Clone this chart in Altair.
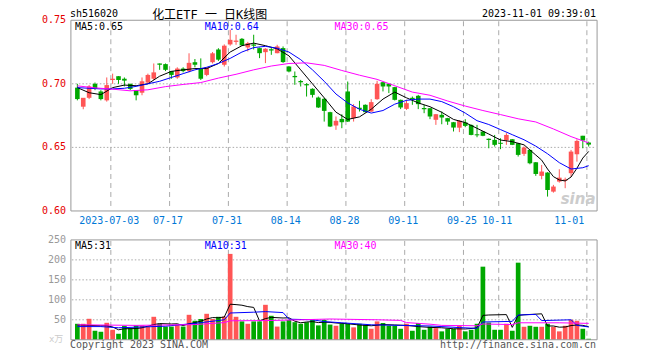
import altair as alt
import pandas as pd

# ---------------- data ----------------
open_ = [0.697, 0.682, 0.689, 0.700, 0.694, 0.687, 0.703, 0.706, 0.704, 0.700,
         0.695, 0.693, 0.701, 0.704, 0.716, 0.7155, 0.710, 0.705, 0.712, 0.710,
         0.717, 0.712, 0.707, 0.717, 0.727, 0.715, 0.731, 0.733, 0.7354, 0.7286,
         0.731, 0.7281, 0.7249, 0.7272, 0.7241, 0.7281, 0.7136, 0.7062, 0.7022, 0.6998,
         0.6961, 0.6892, 0.6882, 0.6777, 0.6672, 0.6724, 0.694, 0.673, 0.6812, 0.6835,
         0.6782, 0.6879, 0.7013, 0.700, 0.6974, 0.6874, 0.6803, 0.6890, 0.6906, 0.6810,
         0.6808, 0.6717, 0.6756, 0.673, 0.6698, 0.6655, 0.6696, 0.6677, 0.6603, 0.6625,
         0.6568, 0.6559, 0.6536, 0.6556, 0.6564, 0.6533, 0.6449, 0.648, 0.6383, 0.6276,
         0.6302, 0.6152, 0.6231, 0.6238, 0.6297, 0.6446, 0.6591, 0.6538]
high = [0.700, 0.688, 0.699, 0.701, 0.695, 0.705, 0.708, 0.706, 0.705, 0.700,
        0.695, 0.705, 0.708, 0.716, 0.716, 0.716, 0.710, 0.713, 0.713, 0.724,
        0.7195, 0.720, 0.713, 0.725, 0.728, 0.731, 0.7425, 0.7386, 0.736, 0.733,
        0.7386, 0.7285, 0.728, 0.7281, 0.7307, 0.7294, 0.714, 0.7097, 0.7031, 0.7005,
        0.6965, 0.690, 0.689, 0.678, 0.6743, 0.6761, 0.7018, 0.684, 0.6866, 0.6838,
        0.6879, 0.7024, 0.7015, 0.700, 0.6976, 0.6876, 0.6874, 0.690, 0.6913, 0.6835,
        0.681, 0.6763, 0.6782, 0.6732, 0.670, 0.6714, 0.6722, 0.668, 0.6677, 0.6627,
        0.6570, 0.6598, 0.6572, 0.6612, 0.6566, 0.6535, 0.6507, 0.6482, 0.6385, 0.6362,
        0.6305, 0.6205, 0.6328, 0.6262, 0.648, 0.6564, 0.6591, 0.6545]
low = [0.687, 0.680, 0.688, 0.695, 0.687, 0.686, 0.700, 0.700, 0.698, 0.695,
       0.687, 0.691, 0.700, 0.703, 0.711, 0.710, 0.704, 0.704, 0.709, 0.709,
       0.713, 0.703, 0.706, 0.716, 0.718, 0.7136, 0.730, 0.7307, 0.730, 0.7255,
       0.727, 0.7202, 0.7163, 0.7228, 0.724, 0.7165, 0.709, 0.6992, 0.6979, 0.690,
       0.6892, 0.681, 0.6703, 0.666, 0.6638, 0.6651, 0.670, 0.6703, 0.6782, 0.6775,
       0.678, 0.6874, 0.694, 0.6927, 0.6869, 0.6801, 0.6795, 0.6835, 0.6801, 0.6769,
       0.6722, 0.6677, 0.6682, 0.6677, 0.6625, 0.6620, 0.6659, 0.6595, 0.658, 0.6588,
       0.6493, 0.6507, 0.6486, 0.652, 0.6518, 0.6428, 0.6433, 0.6367, 0.6276, 0.6249,
       0.6113, 0.6144, 0.6223, 0.6179, 0.627, 0.6388, 0.6493, 0.6507]
close = [0.688, 0.689, 0.698, 0.696, 0.688, 0.699, 0.704, 0.703, 0.7025, 0.696,
         0.691, 0.702, 0.707, 0.709, 0.715, 0.711, 0.707, 0.712, 0.710, 0.7165,
         0.715, 0.704, 0.713, 0.724, 0.719, 0.730, 0.7346, 0.734, 0.7302, 0.732,
         0.730, 0.7241, 0.7276, 0.7262, 0.7294, 0.7171, 0.7097, 0.7052, 0.7012, 0.6988,
         0.6913, 0.6814, 0.6787, 0.6664, 0.6709, 0.6698, 0.6703, 0.6822, 0.6802, 0.6777,
         0.6856, 0.700, 0.6979, 0.6979, 0.6874, 0.6814, 0.6848, 0.6880, 0.684, 0.6800,
         0.6743, 0.6761, 0.6735, 0.6703, 0.6656, 0.6710, 0.6669, 0.6598, 0.6595, 0.6591,
         0.6558, 0.652, 0.6528, 0.6598, 0.652, 0.6441, 0.6499, 0.6375, 0.6291, 0.631,
         0.6165, 0.6192, 0.6262, 0.6248, 0.6467, 0.6551, 0.6554, 0.6522]
volume = [40, 40, 52.5, 22.5, 20, 42.5, 25, 15, 35, 29,
          36, 36, 33, 57.5, 40, 33, 33, 37.5, 33, 62.5,
          47.5, 52, 65, 52, 57.5, 58, 215, 57.5, 46, 40,
          46, 46, 87.5, 60, 33, 46, 50, 44, 40, 44,
          50, 36, 50, 38, 35, 40, 40, 31, 40, 37.5,
          27.5, 46, 42, 35, 35, 27.5, 40, 22.5, 42, 25,
          33, 29, 21, 27.5, 27.5, 35, 21, 25, 40, 183,
          43, 25, 25, 40, 22.5, 193, 32.5, 35, 32.5, 32.5,
          40, 32.5, 21, 35, 50, 47.5, 27.5, 2.5]

# price moving averages (index, value)
ma5_idx = [0, 2, 4, 6, 8, 10, 12, 14, 16, 18, 20, 22, 24, 26, 28, 30, 32, 34, 36, 38,
           40, 42, 44, 46, 48, 50, 52, 54, 56, 58, 60, 62, 64, 66, 68, 70, 72, 74, 76, 78,
           79, 80, 81, 82, 83, 84, 85, 86, 87]
ma5_val = [0.697, 0.693, 0.6915, 0.697, 0.699, 0.6985, 0.700, 0.706, 0.7098, 0.711,
           0.712, 0.712, 0.716, 0.725, 0.730, 0.732, 0.730, 0.7275, 0.722, 0.711,
           0.700, 0.689, 0.6777, 0.672, 0.674, 0.680, 0.688, 0.6935, 0.689, 0.685,
           0.682, 0.6776, 0.672, 0.6695, 0.665, 0.6605, 0.6558, 0.6545, 0.652, 0.644,
           0.640, 0.633, 0.627, 0.6244, 0.6236, 0.6267, 0.6336, 0.6416, 0.6468]
ma10_idx = [0, 2, 4, 6, 8, 10, 12, 14, 16, 18, 20, 22, 24, 26, 28, 30, 32, 34, 36, 38,
            40, 42, 44, 46, 48, 50, 52, 54, 56, 58, 60, 62, 64, 66, 68, 70, 72, 74, 76, 78,
            80, 82, 84, 86, 87]
ma10_val = [0.697, 0.6965, 0.696, 0.696, 0.6965, 0.698, 0.700, 0.702, 0.705, 0.708,
            0.711, 0.713, 0.716, 0.720, 0.725, 0.7285, 0.7295, 0.728, 0.725, 0.719,
            0.711, 0.702, 0.692, 0.685, 0.680, 0.677, 0.679, 0.684, 0.687, 0.688,
            0.688, 0.686, 0.682, 0.677, 0.671, 0.668, 0.664, 0.660, 0.656, 0.651,
            0.645, 0.638, 0.633, 0.634, 0.6356]
ma30_idx = [0, 3, 6, 9, 12, 15, 18, 21, 24, 27, 30, 33, 36, 39, 42, 45, 48, 51, 54, 57,
            60, 63, 66, 69, 72, 75, 78, 81, 84, 87]
ma30_val = [0.6984, 0.6968, 0.6958, 0.6945, 0.6953, 0.6978, 0.6995, 0.701, 0.7045, 0.7075,
            0.711, 0.714, 0.716, 0.7165, 0.7145, 0.7105, 0.7068, 0.7035, 0.6985, 0.6935,
            0.691, 0.6865, 0.6825, 0.679, 0.6758, 0.6725, 0.670, 0.6645, 0.6585, 0.6535]

# volume moving averages (index, value)
vma5_idx = [0, 2, 4, 5, 6, 7, 8, 10, 11, 12, 13, 14, 16, 17, 18, 19, 20, 21, 22, 23,
            24, 25, 26, 27, 28, 29, 30, 31, 32, 33, 35, 36, 37, 38, 39, 40, 41, 42, 43, 44,
            46, 48, 50, 52, 54, 56, 58, 60, 62, 64, 66, 68, 69, 70, 73, 74, 75, 76, 79, 80,
            81, 82, 83, 84, 85, 86, 87]
vma5_val = [37, 36, 35, 35, 32, 25, 27.5, 28, 30, 34, 38, 40.5, 39.5, 40, 35.5, 40, 43, 46.5, 52, 55.5,
            55, 57, 89, 88, 86.5, 83, 81, 47, 53, 56, 54.5, 55, 46.5, 42.5, 44.5, 45.5, 43, 44, 43.5, 42,
            40, 37, 35, 38, 37, 36, 33, 31, 30, 27.5, 27, 29.5, 61, 62, 63, 31, 61, 62.5, 65, 34.5,
            34.5, 31.5, 32, 35.5, 37, 36, 32.5]
vma10_idx = [0, 4, 7, 10, 15, 20, 25, 26, 30, 32, 35, 36, 40, 42, 45, 50, 55, 60, 65, 68,
             69, 74, 75, 78, 79, 84, 85, 87]
vma10_val = [33, 33, 30, 31.5, 34, 41, 50, 67, 69, 70.5, 68, 51.5, 50, 45.5, 42.5, 37.5, 36, 34.5, 30.5, 28.5,
             44.5, 46, 62, 63.5, 48, 50, 36, 32]
vma30_idx = [0, 10, 20, 25, 26, 32, 38, 43, 51, 55, 56, 60, 62, 68, 69, 74, 75, 82, 87]
vma30_val = [37.5, 36, 38, 43, 47.5, 48, 50, 52, 50, 48.5, 43, 39, 36, 35, 39.5, 38, 42.5, 42.5, 41]

label_idx = [6, 16, 26, 36, 46, 56, 66, 72]
label_txt = ["2023-07-03", "07-17", "07-31", "08-14", "08-28", "09-11", "09-25", "10-11"]
last_idx = [87]
last_txt = ["11-01"]
grid_idx = [6, 16, 26, 36, 46, 56, 66, 72, 87]
price_ticks = [0.60, 0.65, 0.70, 0.75]
price_grid = [0.65, 0.70]
vol_ticks = [50, 100, 150, 200, 250]
vol_grid = [50, 100, 150, 200]

# ---------------- styling ----------------
W, H = 527, 320
RED, GREEN = "#ff5555", "#00a800"
MONO = "DejaVu Sans Mono"
GRID = "#aaaaaa"

n = len(close)
candles = pd.DataFrame({
    "idx": list(range(n)), "open": open_, "high": high, "low": low,
    "close": close, "vol": volume,
})
candles["dir"] = ["up" if c >= o else "down" for o, c in zip(open_, close)]

xs = alt.Scale(domain=[-0.25, 87.58], nice=False, zero=False)
ps = alt.Scale(domain=[0.60, 0.75], range=[191, 0], nice=False, zero=False)
vs = alt.Scale(domain=[0, 250], range=[320, 220], nice=False, zero=False)
col = alt.Color("dir:N", scale=alt.Scale(domain=["up", "down"], range=[RED, GREEN]), legend=None)
X = alt.X("idx:Q", scale=xs, axis=None)

base = alt.Chart(candles)

def line_df(idx, val):
    return pd.DataFrame({"idx": idx, "v": val})

# frames
frame_main = alt.Chart(pd.DataFrame({"a": [0]})).mark_rect(fill=None, stroke="#999999", strokeWidth=1).encode(
    x=alt.value(0), x2=alt.value(W), y=alt.value(0), y2=alt.value(191))
frame_vol = alt.Chart(pd.DataFrame({"a": [0]})).mark_rect(fill=None, stroke="#999999", strokeWidth=1).encode(
    x=alt.value(0), x2=alt.value(W), y=alt.value(220), y2=alt.value(320))

gdf = pd.DataFrame({"idx": grid_idx})
vgrid_main = alt.Chart(gdf).mark_rule(color=GRID, strokeDash=[5, 4], xOffset=-1.8).encode(
    x=X, y=alt.value(1), y2=alt.value(190))
vgrid_vol = alt.Chart(gdf).mark_rule(color=GRID, strokeDash=[5, 4], xOffset=-1.8).encode(
    x=X, y=alt.value(221), y2=alt.value(319))

hgrid_main = alt.Chart(pd.DataFrame({"v": price_grid})).mark_rule(color=GRID, strokeDash=[1.5, 2]).encode(
    y=alt.Y("v:Q", scale=ps, axis=None), x=alt.value(1), x2=alt.value(W - 1))
hgrid_vol = alt.Chart(pd.DataFrame({"v": vol_grid})).mark_rule(color=GRID, strokeDash=[1.5, 2]).encode(
    y=alt.Y("v:Q", scale=vs, axis=None), x=alt.value(1), x2=alt.value(W - 1))

wick = base.mark_rule(strokeWidth=1).encode(
    x=X, y=alt.Y("low:Q", scale=ps, axis=None), y2="high:Q", color=col)
body = base.mark_bar(size=4.6).encode(
    x=X, y=alt.Y("open:Q", scale=ps, axis=None), y2="close:Q", color=col)

def ma_line(idx, val, color, scale):
    return alt.Chart(line_df(idx, val)).mark_line(color=color, strokeWidth=1).encode(
        x=X, y=alt.Y("v:Q", scale=scale, axis=None))

ma5 = ma_line(ma5_idx, ma5_val, "#000000", ps)
ma10 = ma_line(ma10_idx, ma10_val, "#0000ff", ps)
ma30 = ma_line(ma30_idx, ma30_val, "#ff00ff", ps)

vbars = base.mark_bar(size=4.7).encode(
    x=X, y=alt.Y("vol:Q", scale=vs, axis=None, stack=None), color=col)
vma5 = ma_line(vma5_idx, vma5_val, "#000000", vs)
vma10 = ma_line(vma10_idx, vma10_val, "#0000ff", vs)
vma30 = ma_line(vma30_idx, vma30_val, "#ff00ff", vs)

# axis labels
ptxt = alt.Chart(pd.DataFrame({"v": price_ticks})).mark_text(
    align="right", baseline="middle", dx=-5, font=MONO, fontSize=10, color="#e60000").encode(
    y=alt.Y("v:Q", scale=ps, axis=None), x=alt.value(0), text=alt.Text("v:Q", format=".2f"))
vtxt = alt.Chart(pd.DataFrame({"v": vol_ticks})).mark_text(
    align="right", baseline="middle", dx=-5, font=MONO, fontSize=10, color="#999999").encode(
    y=alt.Y("v:Q", scale=vs, axis=None), x=alt.value(0), text=alt.Text("v:Q", format="d"))
xtxt = alt.Chart(pd.DataFrame({"idx": label_idx, "t": label_txt})).mark_text(
    align="center", baseline="middle", dx=-3.3, font=MONO, fontSize=10, color="#0078d7").encode(
    x=X, y=alt.value(201), text="t:N")
xtxt_last = alt.Chart(pd.DataFrame({"idx": last_idx, "t": last_txt})).mark_text(
    align="right", baseline="middle", dx=-4.5, font=MONO, fontSize=10, color="#0078d7").encode(
    x=X, y=alt.value(201), text="t:N")

def label(txt, x, y, color="#000000", align="left", font=MONO, size=10, **kw):
    return alt.Chart(pd.DataFrame({"t": [txt]})).mark_text(
        align=align, baseline="middle", font=font, fontSize=size, color=color, **kw).encode(
        x=alt.value(x), y=alt.value(y), text="t:N")

texts = [
    label("sh516020", -1, -6),
    label("化工ETF\u00a0一\u00a0日K线图", 139, -5.2, align="center",
          font="DejaVu Sans Mono, Noto Sans CJK SC", size=12),
    label("2023-11-01 09:39:01", 526, -6, align="right"),
    label("MA5:0.65", 4, 6.5),
    label("MA10:0.64", 134, 6.5, color="#0000ff"),
    label("MA30:0.65", 264, 6.5, color="#ff00ff"),
    label("MA5:31", 4, 226.5),
    label("MA10:31", 134, 226.5, color="#0000ff"),
    label("MA30:40", 264, 226.5, color="#ff00ff"),
    label("x万", -22, 319, color="#cccccc", font="DejaVu Sans Mono, Noto Sans CJK SC", size=9),
    label("Copyright 2023 SINA.COM", -1, 325.5, color="#555555"),
    label("http://finance.sina.com.cn", 526, 325.5, color="#555555", align="right"),
    label("sina", 508, 179, color="#cccccc", align="center", font="DejaVu Sans", size=15,
          fontStyle="italic", fontWeight="bold"),
]

chart = alt.layer(
    vgrid_main, vgrid_vol, hgrid_main, hgrid_vol,
    wick, body, ma5, ma10, ma30,
    vbars, vma5, vma10, vma30,
    frame_main, frame_vol,
    ptxt, vtxt, xtxt, xtxt_last, *texts,
).resolve_scale(y="independent").properties(
    width=W, height=H,
    autosize=alt.AutoSizeParams(type="none"),
    padding={"left": 63, "top": 12, "right": 55, "bottom": 20},
).configure_view(stroke=None)

chart.save("out.html", embed_options={"renderer": "svg", "actions": False})
